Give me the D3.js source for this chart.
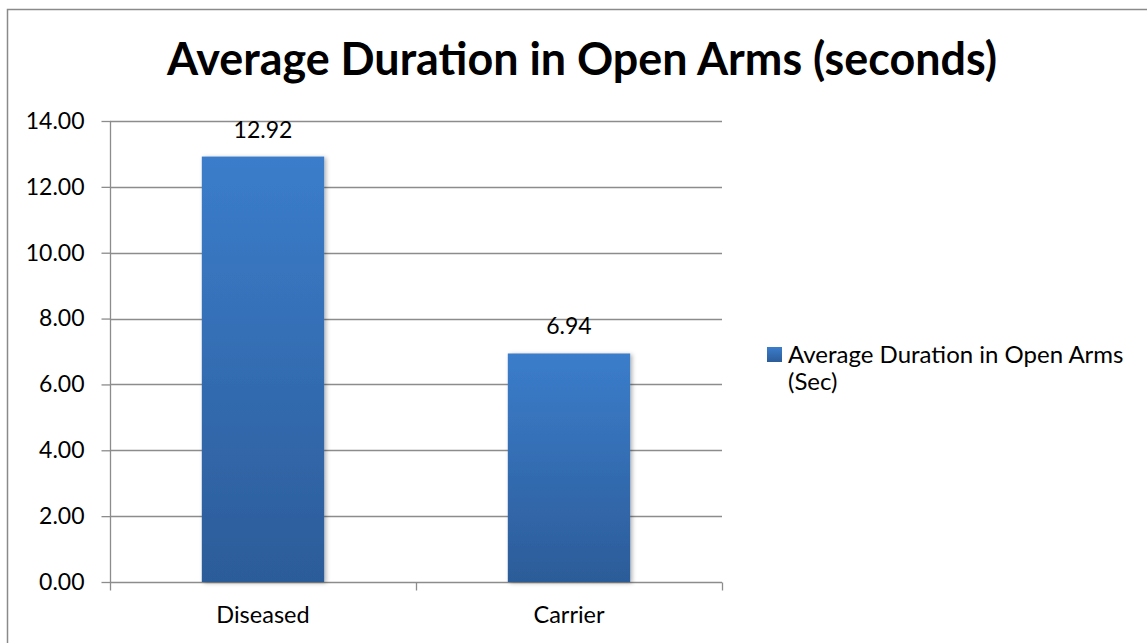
<!DOCTYPE html>
<html><head><meta charset="utf-8">
<script src="https://cdn.jsdelivr.net/npm/d3@7"></script>
<style>body{margin:0;background:#fff}svg{display:block}text{font-family:Lato,"Open Sans",sans-serif;fill:#000}</style>
</head><body><svg id="c" width="1147" height="643"></svg>
<script>
const title = "Average Duration in Open Arms (seconds)";
const categories = ["Diseased", "Carrier"];
const values = [12.92, 6.94];
const seriesName = ["Average Duration in Open Arms", "(Sec)"];
const yTicks = [0, 2, 4, 6, 8, 10, 12, 14];

const svg = d3.select("#c");
const defs = svg.append("defs");
const g = defs.append("linearGradient").attr("id","bg").attr("x1",0).attr("y1",0).attr("x2",0).attr("y2",1);
g.append("stop").attr("offset","0%").attr("stop-color","#3b7dcb");
g.append("stop").attr("offset","100%").attr("stop-color","#2c5c99");
const lg = defs.append("linearGradient").attr("id","lg").attr("x1",0).attr("y1",0).attr("x2",0).attr("y2",1);
lg.append("stop").attr("offset","0%").attr("stop-color","#3b7dcb");
lg.append("stop").attr("offset","100%").attr("stop-color","#2c5c99");
const f = defs.append("filter").attr("id","sh").attr("x","-10%").attr("y","-10%").attr("width","130%").attr("height","130%");
f.append("feDropShadow").attr("dx",2).attr("dy",1).attr("stdDeviation",2).attr("flood-color","#000").attr("flood-opacity",0.3);

// frame
svg.append("rect").attr("x",7.5).attr("y",9.5).attr("width",1160).attr("height",660)
  .attr("fill","none").attr("stroke","#8a8a8a").attr("stroke-width",1.5);

const pL = 110, pR = 722, pT = 121, pB = 582;
const x = d3.scaleBand().domain(categories).range([pL,pR]).paddingInner(0.6).paddingOuter(0.3);
const y = d3.scaleLinear().domain([0,14]).range([pB,pT]);

// gridlines
svg.append("g").selectAll("line").data(yTicks.filter(d=>d>0)).join("line")
  .attr("x1",pL).attr("x2",pR).attr("y1",d=>Math.round(y(d))+0.5).attr("y2",d=>Math.round(y(d))+0.5)
  .attr("stroke","#8c8c8c").attr("stroke-width",1.3);

// y axis
const ya = svg.append("g").attr("transform",`translate(${pL+0.5},0)`)
  .call(d3.axisLeft(y).tickValues(yTicks).tickFormat(d3.format(".2f")).tickSize(9).tickPadding(17));
ya.select(".domain").attr("stroke","#8c8c8c").attr("stroke-width",1.3).attr("d",`M0,${pT}V${pB}`);
ya.selectAll(".tick line").attr("stroke","#8c8c8c").attr("stroke-width",1.3);
ya.selectAll(".tick text").attr("font-family","Lato").attr("font-size",23).attr("fill","#000");

// x axis
const xa = svg.append("g").attr("transform",`translate(0,${pB+0.5})`);
xa.append("line").attr("x1",pL).attr("x2",pR).attr("stroke","#8c8c8c").attr("stroke-width",1.3);
const bounds = [pL, ...categories.map(c=>x(c)+x.bandwidth()+x.step()*0.3)];
xa.selectAll(".bt").data(bounds).join("line").attr("class","bt")
  .attr("x1",d=>Math.round(d)+0.5).attr("x2",d=>Math.round(d)+0.5).attr("y1",0).attr("y2",8)
  .attr("stroke","#8c8c8c").attr("stroke-width",1.3);
xa.selectAll("text").data(categories).join("text")
  .attr("x",d=>x(d)+x.bandwidth()/2).attr("y",40).attr("text-anchor","middle")
  .attr("font-size",23.5).text(d=>d);

// bars
const data = categories.map((c,i)=>({c, v:values[i]}));
svg.append("g").selectAll("rect").data(data).join("rect")
  .attr("x",d=>x(d.c)).attr("width",x.bandwidth())
  .attr("y",d=>y(d.v)).attr("height",d=>pB-y(d.v))
  .attr("fill","url(#bg)").attr("filter","url(#sh)");

// value labels
svg.append("g").selectAll("text").data(data).join("text")
  .attr("x",d=>x(d.c)+x.bandwidth()/2).attr("y",d=>y(d.v)-19)
  .attr("text-anchor","middle").attr("font-size",23).text(d=>d3.format(".2f")(d.v));

// title
const t = svg.append("text").attr("x",582).attr("y",75).attr("text-anchor","middle")
  .attr("font-weight","bold").attr("font-size",42).text(title);
const tw = t.node().getComputedTextLength();
t.attr("font-size", 42*830/tw);

// legend
svg.append("rect").attr("x",767).attr("y",347).attr("width",15).attr("height",15).attr("fill","url(#lg)");
const lt = svg.append("text").attr("font-size",24);
lt.selectAll("tspan").data(seriesName).join("tspan").attr("x",788).attr("y",(d,i)=>363+i*27).text(d=>d);
</script></body></html>
